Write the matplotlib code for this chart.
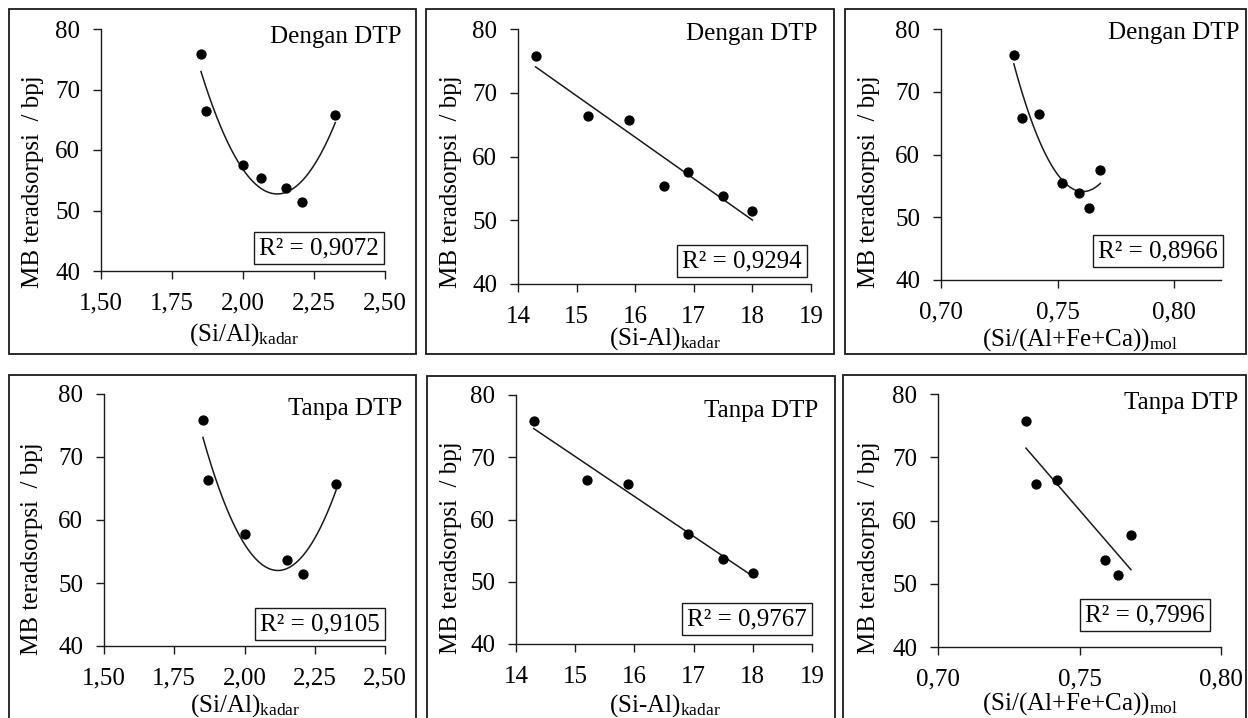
import numpy as np
import matplotlib
matplotlib.use("Agg")
import matplotlib.pyplot as plt
from matplotlib.patches import Rectangle

plt.rcParams["font.family"] = ["Liberation Serif", "DejaVu Serif"]
plt.rcParams["mathtext.fontset"] = "custom"
plt.rcParams["mathtext.rm"] = "Liberation Serif"
plt.rcParams["mathtext.it"] = "Liberation Serif:italic"

W, H = 1248, 718

# Adsorbed methylene blue (bpj) and clay composition, with DTP (7 samples)
mb_dengan = [75.8, 66.4, 65.8, 55.4, 57.6, 53.8, 51.4]
ratio_dengan = [1.852, 1.870, 2.325, 2.064, 2.000, 2.150, 2.209]
diff_dengan = [14.3, 15.2, 15.9, 16.5, 16.9, 17.5, 18.0]
mol_dengan = [0.7312, 0.7421, 0.7348, 0.7519, 0.7683, 0.7592, 0.7635]

# Without DTP (6 samples)
mb_tanpa = [75.8, 66.4, 65.7, 57.7, 53.7, 51.4]
ratio_tanpa = [1.852, 1.871, 2.326, 2.003, 2.151, 2.209]
diff_tanpa = [14.3, 15.2, 15.9, 16.9, 17.5, 18.0]
mol_tanpa = [0.7311, 0.7419, 0.7346, 0.7682, 0.7591, 0.7635]

r2_labels = ["0,9072", "0,9294", "0,8966", "0,9105", "0,9767", "0,7996"]
fit_degree = [2, 1, 2, 2, 1, 1]

ratio_ticks = [1.50, 1.75, 2.00, 2.25, 2.50]
diff_ticks = [14, 15, 16, 17, 18, 19]
mol_ticks = [0.70, 0.75, 0.80]
mb_ticks = [40, 50, 60, 70, 80]

xlabels = [r"(Si/Al)$_{\mathrm{kadar}}$", r"(Si-Al)$_{\mathrm{kadar}}$",
           r"(Si/(Al+Fe+Ca))$_{\mathrm{mol}}$"]
ylabel = "MB teradsorpsi  / bpj"
titles = ["Dengan DTP", "Tanpa DTP"]

FS = 18


def fx(x):
    return x / W


def fy(y):
    return 1 - y / H


def comma(v, nd):
    return f"{v:.{nd}f}".replace(".", ",")


fig = plt.figure(figsize=(W / 100, H / 100), dpi=100)
fig.patch.set_facecolor("white")

# layout in pixels: panel frame, plot area, label anchors
panels = [
    dict(frame=(9, 9, 416, 354), area=(101, 29, 385, 271), xlim=(1.5, 2.5),
         ylab=(33, 182), xlab=(244, 341), title=(402, 43), box=(319, 248)),
    dict(frame=(426, 9, 834, 354), area=(518, 29, 811, 284), xlim=(14, 19),
         ylab=(451, 182), xlab=(665, 345), title=(818, 40), box=(742, 261)),
    dict(frame=(845, 9, 1246, 354), area=(941, 29, 1221, 280), xlim=(0.70, 0.82),
         ylab=(869, 182), xlab=(1080, 346), title=(1239, 39), box=(1158, 251)),
    dict(frame=(9, 375, 416, 740), area=(104, 394, 385, 646), xlim=(1.5, 2.5),
         ylab=(32, 549), xlab=(245, 712), title=(402, 415), box=(320, 624)),
    dict(frame=(427, 376, 835, 740), area=(516, 395, 812, 644), xlim=(14, 19),
         ylab=(451, 548), xlab=(665, 712), title=(818, 417), box=(747, 619)),
    dict(frame=(843, 375, 1246, 740), area=(938, 394, 1221, 647), xlim=(0.70, 0.80),
         ylab=(869, 548), xlab=(1080, 710), title=(1238, 409), box=(1145, 615)),
]

series = [
    (ratio_dengan, mb_dengan), (diff_dengan, mb_dengan), (mol_dengan, mb_dengan),
    (ratio_tanpa, mb_tanpa), (diff_tanpa, mb_tanpa), (mol_tanpa, mb_tanpa),
]
xticks_all = [ratio_ticks, diff_ticks, mol_ticks] * 2
xdec = [2, 0, 2] * 2

for i, (p, (xs, ys)) in enumerate(zip(panels, series)):
    l, t, r, b = p["frame"]
    fig.add_artist(Rectangle((fx(l), fy(b)), fx(r - l), (b - t) / H,
                             transform=fig.transFigure, fill=False,
                             edgecolor="#1a1a1a", linewidth=1.3))
    al, at, ar, ab = p["area"]
    ax = fig.add_axes([fx(al), fy(ab), fx(ar - al), (ab - at) / H])
    ax.set_facecolor("none")
    ax.set_xlim(*p["xlim"])
    ax.set_ylim(40, 80)
    for s in ("top", "right"):
        ax.spines[s].set_visible(False)
    for s in ("left", "bottom"):
        ax.spines[s].set_linewidth(1.0)
        ax.spines[s].set_color("#1a1a1a")
    ax.set_xticks(xticks_all[i])
    ax.set_xticklabels([comma(v, xdec[i]) for v in xticks_all[i]])
    ax.set_yticks(mb_ticks)
    ax.set_yticklabels([str(v) for v in mb_ticks])
    ax.tick_params(direction="out", length=6, width=1.0, color="#1a1a1a",
                   labelsize=FS)
    ax.tick_params(axis="x", pad=9.5)
    ax.tick_params(axis="y", pad=9)

    x = np.array(xs)
    y = np.array(ys)
    coef = np.polyfit(x, y, fit_degree[i])
    xx = np.linspace(x.min(), x.max(), 200)
    ax.plot(xx, np.polyval(coef, xx), color="#1a1a1a", linewidth=1.1)
    ax.plot(x, y, "o", color="black", markersize=6.4, linestyle="none")

    fig.text(fx(p["ylab"][0]), fy(p["ylab"][1]), ylabel, rotation=90,
             ha="center", va="center", fontsize=FS)
    fig.text(fx(p["xlab"][0]), fy(p["xlab"][1]), xlabels[i % 3],
             ha="center", va="baseline", fontsize=FS)
    fig.text(fx(p["title"][0]), fy(p["title"][1]), titles[i // 3],
             ha="right", va="baseline", fontsize=FS)
    fig.text(fx(p["box"][0]), fy(p["box"][1]), f"R\u00b2 = {r2_labels[i]}",
             ha="center", va="center", fontsize=FS,
             bbox=dict(boxstyle="square,pad=0.2", facecolor="white",
                       edgecolor="#1a1a1a", linewidth=1.0))

fig.savefig("out.png", dpi=100, facecolor="white")
